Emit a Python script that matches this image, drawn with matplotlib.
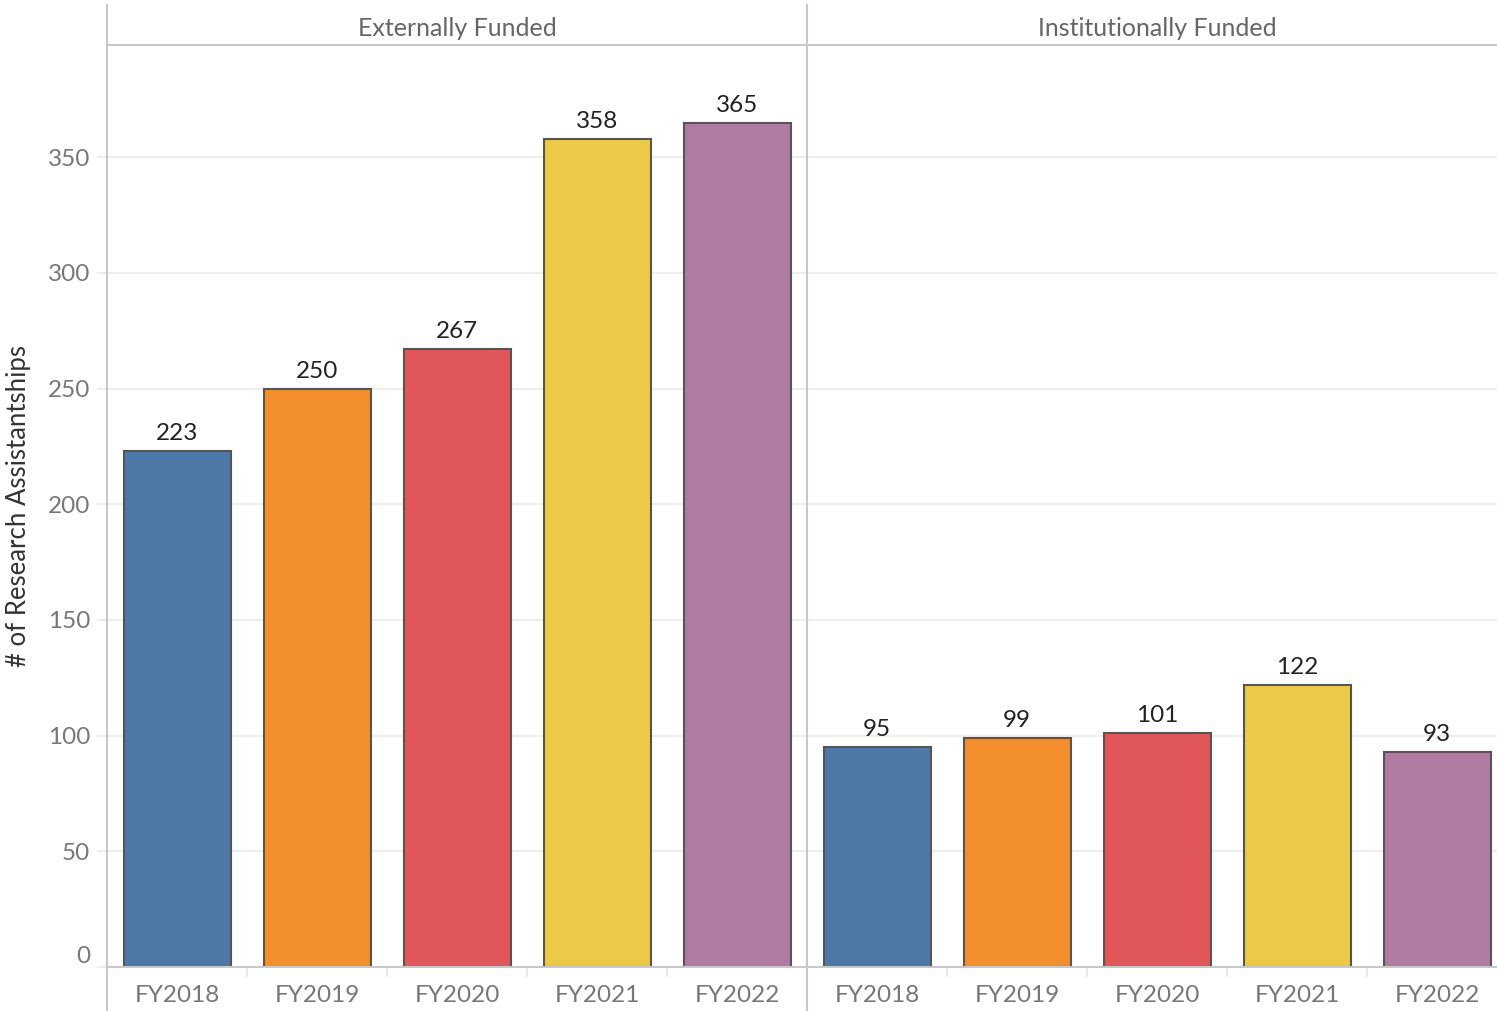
import matplotlib.pyplot as plt
from matplotlib.lines import Line2D

plt.rcParams['font.family'] = ['Lato', 'DejaVu Sans']

years = ['FY2018', 'FY2019', 'FY2020', 'FY2021', 'FY2022']
panels = ['Externally Funded', 'Institutionally Funded']
external = [223, 250, 267, 358, 365]
institutional = [95, 99, 101, 122, 93]
colors = ['#4E79A7', '#F28E2B', '#E15759', '#EDC948', '#B07AA1']
yticks = [0, 50, 100, 150, 200, 250, 300, 350]

W, H = 1497, 1011
fig = plt.figure(figsize=(W / 100, H / 100), dpi=100)

def px_axes(x, y, w, h):
    # pixel box measured from the top-left corner
    return fig.add_axes([x / W, 1 - (y + h) / H, w / W, h / H])

LINE = '#c8c8c8'
GRID = '#eeeeee'
TICK = '#777777'

plot_top, plot_bot = 45, 967
boxes = [(107, 700), (807, 690)]
series = [external, institutional]

for i, ((x0, w), vals, title) in enumerate(zip(boxes, series, panels)):
    ax = px_axes(x0, plot_top, w, plot_bot - plot_top)
    xs = range(len(years))
    ax.bar([x + 0.004 for x in xs], vals, width=0.765, color=colors,
           edgecolor='#555555', linewidth=1.5, zorder=3)
    for x, v in zip(xs, vals):
        ax.annotate(str(v), (x, v), xytext=(0, 5), textcoords='offset points',
                    ha='center', va='bottom', fontsize=17.5, color='#222222')
    ax.set_xlim(-0.5, -0.5 + w / 140)
    ax.set_ylim(0, 398.5)
    ax.set_yticks(yticks)
    ax.grid(axis='y', color=GRID, linewidth=1.5, zorder=0)
    ax.set_xticks(list(xs))
    ax.set_xticklabels(years, fontsize=17.5, color=TICK)
    ax.tick_params(axis='x', length=0, pad=13)
    for s in ['top', 'right', 'left']:
        ax.spines[s].set_visible(False)
    ax.spines['bottom'].set_color(LINE)
    ax.spines['bottom'].set_linewidth(1.5)
    ax.spines['bottom'].set_zorder(4)
    # short separators between categories below the axis
    for b in range(1, len(years)):
        ax.plot([b - 0.5, b - 0.5], [0, -4], color='#e4e4e4', lw=1.2,
                clip_on=False)
    if i == 0:
        ax.tick_params(axis='y', length=7, color=GRID, width=1.5,
                       labelsize=17.5, labelcolor=TICK, pad=5)
        # the zero label sits above the baseline
        ax.get_yticklabels()[0].set_va('bottom')
        ax.set_ylabel('# of Research Assistantships', fontsize=18.5,
                      color='#333333', labelpad=12)
    else:
        ax.tick_params(axis='y', length=0, labelleft=False)

    # panel header
    hx = px_axes(x0, 5, w, 40)
    hx.set_xlim(0, 1)
    hx.set_ylim(0, 1)
    hx.axis('off')
    hx.text(350 / w, 0.4, title, ha='center', va='center', fontsize=18,
            color='#666666')

# header rule and panel dividers
fig.add_artist(Line2D([107 / W, 1], [1 - 45 / H] * 2, color=LINE, lw=1.5))
for xp in (107, 807):
    fig.add_artist(Line2D([xp / W] * 2, [1 - 5 / H, 0], color=LINE, lw=1.5))

fig.savefig('out.png', dpi=100, facecolor='white')
